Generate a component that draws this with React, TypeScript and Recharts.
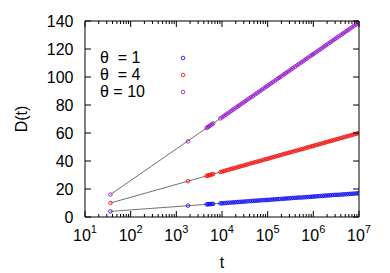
import React from 'react';
import { ScatterChart, Scatter, XAxis, YAxis, ReferenceArea } from 'recharts';

// time steps where D(t) was sampled
const tValues = [
  36, 1800, 4600, 4900, 5200, 5600, 6000, 6400, 9200,
  10000, 11000, 12000, 13200, 14500, 16000, 17500, 19000, 21000, 23000, 25000, 27500, 30000,
  33000, 36000, 40000, 44000, 48000, 53000, 58000, 64000, 70000, 77000, 85000, 93000,
  100000, 110000, 120000, 132000, 145000, 160000, 175000, 190000, 210000, 230000, 250000, 275000, 300000,
  330000, 360000, 400000, 440000, 480000, 530000, 580000, 640000, 700000, 770000, 850000, 930000,
  1000000, 1100000, 1200000, 1320000, 1450000, 1600000, 1750000, 1900000, 2100000, 2300000, 2500000, 2750000, 3000000,
  3300000, 3600000, 4000000, 4400000, 4800000, 5300000, 5800000, 6400000, 7000000, 7700000, 8500000, 9300000,
  10000000,
];

const dTheta1 = [
  4.0, 8.1, 9.0, 9.1, 9.2, 9.2, 9.3, 9.4, 9.7,
  9.8, 9.9, 10.0, 10.1, 10.2, 10.3, 10.4, 10.5, 10.6, 10.7, 10.8, 10.9, 11.0,
  11.1, 11.2, 11.3, 11.4, 11.5, 11.6, 11.7, 11.8, 11.9, 12.0, 12.1, 12.1,
  12.2, 12.3, 12.4, 12.5, 12.6, 12.7, 12.8, 12.9, 13.0, 13.1, 13.2, 13.3, 13.4,
  13.5, 13.6, 13.7, 13.8, 13.9, 13.9, 14.0, 14.1, 14.2, 14.3, 14.4, 14.5,
  14.6, 14.7, 14.8, 14.9, 15.0, 15.1, 15.2, 15.3, 15.4, 15.5, 15.6, 15.7, 15.8,
  15.8, 15.9, 16.0, 16.1, 16.2, 16.3, 16.4, 16.5, 16.6, 16.7, 16.8, 16.9,
  17.0,
];

const dTheta4 = [
  10.0, 25.6, 29.3, 29.6, 29.8, 30.1, 30.4, 30.7, 32.1,
  32.4, 32.8, 33.2, 33.6, 33.9, 34.3, 34.7, 35.0, 35.4, 35.8, 36.1, 36.5, 36.8,
  37.2, 37.6, 38.0, 38.4, 38.7, 39.1, 39.5, 39.8, 40.2, 40.6, 41.0, 41.3,
  41.6, 42.0, 42.4, 42.7, 43.1, 43.5, 43.9, 44.2, 44.6, 45.0, 45.3, 45.7, 46.0,
  46.4, 46.7, 47.2, 47.5, 47.9, 48.3, 48.6, 49.0, 49.4, 49.8, 50.2, 50.5,
  50.8, 51.2, 51.6, 51.9, 52.3, 52.7, 53.0, 53.4, 53.8, 54.1, 54.5, 54.8, 55.2,
  55.6, 55.9, 56.4, 56.7, 57.1, 57.5, 57.8, 58.2, 58.6, 59.0, 59.4, 59.7,
  60.0,
];

const dTheta10 = [
  16.0, 54.0, 63.6, 64.2, 64.8, 65.5, 66.2, 66.8, 70.4,
  71.2, 72.1, 73.0, 73.9, 74.8, 75.8, 76.7, 77.5, 78.5, 79.4, 80.2, 81.1, 82.0,
  82.9, 83.8, 84.8, 85.7, 86.6, 87.6, 88.4, 89.4, 90.3, 91.2, 92.2, 93.1,
  93.8, 94.7, 95.6, 96.5, 97.4, 98.4, 99.3, 100.1, 101.1, 102.0, 102.8, 103.7, 104.6,
  105.5, 106.4, 107.4, 108.3, 109.2, 110.2, 111.0, 112.0, 112.9, 113.8, 114.8, 115.7,
  116.4, 117.3, 118.2, 119.1, 120.0, 121.0, 121.9, 122.7, 123.7, 124.6, 125.4, 126.3, 127.2,
  128.1, 129.0, 130.0, 130.9, 131.8, 132.8, 133.6, 134.6, 135.5, 136.4, 137.4, 138.3,
  139.0,
];

// straight fits (linear in log t), end points only
const fitT = [36, 10000000];
const fitTheta1 = [4.0, 17.0];
const fitTheta4 = [10.0, 60.0];
const fitTheta10 = [16.0, 139.0];

const xMajorTicks = [10, 100, 1000, 10000, 100000, 1000000, 10000000];
const xExponents = ['1', '2', '3', '4', '5', '6', '7'];
const xMinorTicks = [
  20, 30, 40, 50, 60, 70, 80, 90,
  200, 300, 400, 500, 600, 700, 800, 900,
  2000, 3000, 4000, 5000, 6000, 7000, 8000, 9000,
  20000, 30000, 40000, 50000, 60000, 70000, 80000, 90000,
  200000, 300000, 400000, 500000, 600000, 700000, 800000, 900000,
  2000000, 3000000, 4000000, 5000000, 6000000, 7000000, 8000000, 9000000,
];
const yTicks = [0, 20, 40, 60, 80, 100, 120, 140];

const labels = ['θ  = 1', 'θ  = 4', 'θ = 10'];
const colors = ['#0000ff', '#ff0000', '#9400d3'];

const W = 390;
const H = 273;
const PLOT_LEFT = 85;
const PLOT_RIGHT = 359;
const PLOT_TOP = 21;
const PLOT_BOTTOM = 217;
const FONT = '"Liberation Sans", Arial, sans-serif';
const FS = 16;

const toPoints = (xs: number[], ys: number[]) => xs.map((t, i) => ({ t, d: ys[i] }));

const series = [
  { name: labels[0], color: colors[0], points: toPoints(tValues, dTheta1), fit: toPoints(fitT, fitTheta1) },
  { name: labels[1], color: colors[1], points: toPoints(tValues, dTheta4), fit: toPoints(fitT, fitTheta4) },
  { name: labels[2], color: colors[2], points: toPoints(tValues, dTheta10), fit: toPoints(fitT, fitTheta10) },
];

const XTick = (props: any) => {
  const { x, payload } = props;
  const v = payload.value;
  const idx = xMajorTicks.indexOf(v);
  const len = idx >= 0 ? 6 : 3;
  return (
    <g>
      <line x1={x} x2={x} y1={PLOT_BOTTOM} y2={PLOT_BOTTOM - len} stroke="#000" strokeWidth={1} />
      <line x1={x} x2={x} y1={PLOT_TOP} y2={PLOT_TOP + len} stroke="#000" strokeWidth={1} />
      {idx >= 0 && (
        <text x={x} y={241} textAnchor="middle" fontSize={FS} fontFamily={FONT} fill="#000">
          10<tspan dy={-8.5} fontSize={11}>{xExponents[idx]}</tspan>
        </text>
      )}
    </g>
  );
};

const YTick = (props: any) => {
  const { y, payload } = props;
  return (
    <g>
      <line x1={PLOT_LEFT} x2={PLOT_LEFT + 6} y1={y} y2={y} stroke="#000" strokeWidth={1} />
      <line x1={PLOT_RIGHT} x2={PLOT_RIGHT - 6} y1={y} y2={y} stroke="#000" strokeWidth={1} />
      <text x={73.5} y={y} dy="0.36em" textAnchor="end" fontSize={FS} fontFamily={FONT} fill="#000">
        {payload.value}
      </text>
    </g>
  );
};

const Marker = (color: string) => (props: any) => (
  <circle cx={props.cx} cy={props.cy} r={1.8} fill="none" stroke={color} strokeWidth={0.8} />
);

const NoMarker = () => <g />;

export default function App() {
  return (
    <div style={{ position: 'relative', width: W, height: H, background: '#fff' }}>
      <style>{'body{margin:0}'}</style>
      <ScatterChart width={W} height={H} margin={{ top: PLOT_TOP, right: W - PLOT_RIGHT, bottom: 0, left: 0 }}>
        <XAxis
          dataKey="t"
          type="number"
          scale="log"
          domain={[10, 10000000]}
          ticks={[...xMajorTicks, ...xMinorTicks]}
          interval={0}
          allowDataOverflow
          height={H - PLOT_BOTTOM}
          axisLine={false}
          tickLine={false}
          tick={XTick}
          label={{
            content: () => (
              <text x={(PLOT_LEFT + PLOT_RIGHT) / 2} y={262} dy="0.36em" textAnchor="middle" fontSize={FS} fontFamily={FONT} fill="#000">
                t
              </text>
            ),
          }}
        />
        <YAxis
          dataKey="d"
          type="number"
          domain={[0, 140]}
          ticks={yTicks}
          interval={0}
          width={PLOT_LEFT}
          axisLine={false}
          tickLine={false}
          tick={YTick}
          label={{
            content: () => (
              <text x={21} y={119} dy="0.36em" textAnchor="middle" fontSize={FS} fontFamily={FONT} fill="#000" transform="rotate(-90 21 119)">
                D(t)
              </text>
            ),
          }}
        />
        {series.map((s) => (
          <Scatter
            key={'fit' + s.name}
            data={s.fit}
            line={{ stroke: '#333', strokeWidth: 0.7 }}
            shape={NoMarker}
            isAnimationActive={false}
          />
        ))}
        {series.map((s) => (
          <Scatter key={s.name} name={s.name} data={s.points} shape={Marker(s.color)} isAnimationActive={false} />
        ))}
        <ReferenceArea x1={10} x2={10000000} y1={0} y2={140} fill="none" stroke="#000" strokeWidth={1} ifOverflow="visible" />
      </ScatterChart>
      <div style={{ position: 'absolute', left: 100, top: 49, fontFamily: FONT, fontSize: FS, color: '#000' }}>
        {series.map((s) => (
          <div key={s.name} style={{ height: 17, lineHeight: '17px', whiteSpace: 'pre', position: 'relative' }}>
            {s.name}
            <svg width={8} height={8} style={{ position: 'absolute', left: 79, top: 4.5 }}>
              <circle cx={4} cy={4} r={1.8} fill="none" stroke={s.color} strokeWidth={0.8} />
            </svg>
          </div>
        ))}
      </div>
    </div>
  );
}
